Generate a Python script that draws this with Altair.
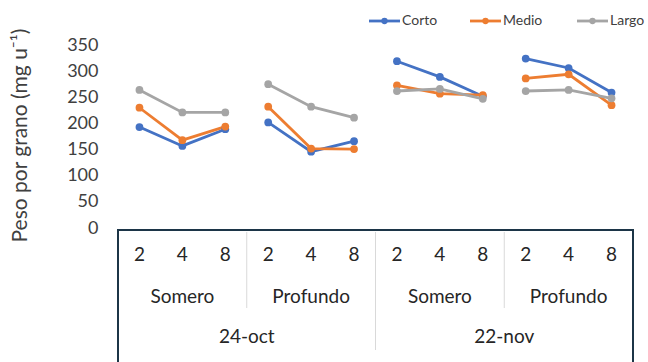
import altair as alt
import pandas as pd

# Category levels (innermost to outermost)
dias = ["2", "4", "8"]
profundidades = ["Somero", "Profundo"]
fechas = ["24-oct", "22-nov"]

# Peso por grano (mg/u) per series, ordered fecha > profundidad > día
series = ["Corto", "Medio", "Largo"]
corto = [193, 157, 189, 202, 146, 166, 319, 289, 252, 324, 306, 259]
medio = [230, 168, 194, 232, 152, 151, 273, 257, 254, 286, 294, 235]
largo = [264, 221, 221, 275, 232, 211, 262, 266, 247, 262, 264, 248]
colores = ["#4472C4", "#ED7D31", "#A5A5A5"]

FONT = "Lato"
W = 515
H = 183
N = len(fechas) * len(profundidades) * len(dias)

rows = []
cat_rows = []
pos = 0
for fi, f in enumerate(fechas):
    for pi, p in enumerate(profundidades):
        grupo = f"{f}|{p}"
        for d in dias:
            cat_rows.append({"pos": pos, "dia": d})
            for s, vals in zip(series, [corto, medio, largo]):
                rows.append({"pos": pos, "serie": s, "grupo": grupo, "peso": vals[pos]})
            pos += 1

df = pd.DataFrame(rows)
cats = pd.DataFrame(cat_rows)

nd = len(dias)
prof_df = pd.DataFrame([
    {"pos": (fi * len(profundidades) + pi) * nd + (nd - 1) / 2, "label": p}
    for fi, f in enumerate(fechas) for pi, p in enumerate(profundidades)
])
span_f = len(profundidades) * nd
fecha_df = pd.DataFrame([
    {"pos": fi * span_f + (span_f - 1) / 2, "label": f} for fi, f in enumerate(fechas)
])
# separators between depth groups (short) and between dates (long)
sep_prof = pd.DataFrame({"pos": [g * nd - 0.5 for g in range(1, N // nd) if (g * nd) % span_f != 0]})
sep_fecha = pd.DataFrame({"pos": [fi * span_f - 0.5 for fi in range(1, len(fechas))]})
frame = pd.DataFrame({"x0": [-0.5], "x1": [N - 0.5]})

xs = alt.Scale(domain=[-0.5, N - 0.5], nice=False, zero=False)
ys = alt.Scale(domain=[0, 350], nice=False)
cs = alt.Scale(domain=series, range=colores)


def xpos(field):
    return alt.X(field, scale=xs, axis=None)


lines = alt.Chart(df).mark_line(point=alt.OverlayMarkDef(size=60, filled=True), strokeWidth=2.8).encode(
    x=xpos("pos:Q"),
    y=alt.Y(
        "peso:Q", scale=ys,
        axis=alt.Axis(
            values=list(range(0, 351, 50)), grid=False, domain=False, ticks=False,
            labelPadding=20, labelFont=FONT, labelFontSize=18, labelColor="#404040",
            title="Peso por grano (mg u⁻¹)", titleFont=FONT, titleFontSize=21,
            titleFontWeight="normal", titleColor="#404040",
            titleX=-98, titleY=90, titleAngle=270, titleAlign="center", titleBaseline="middle",
        ),
    ),
    color=alt.Color("serie:N", scale=cs, legend=None),
    detail="grupo:N",
)

# legend row above the plot: line-with-marker swatch followed by the label
LEG_X = [251, 352, 459]
LEG_Y = -24
SW = 31
legend_layers = []
for s, c, x0 in zip(series, colores, LEG_X):
    one = alt.Chart(pd.DataFrame({"serie": [s]}))
    legend_layers += [
        one.mark_rule(color=c, strokeWidth=2.8).encode(
            x=alt.value(x0), x2=alt.value(x0 + SW), y=alt.value(LEG_Y)
        ),
        one.mark_point(filled=True, size=40, color=c, opacity=1).encode(
            x=alt.value(x0 + SW / 2), y=alt.value(LEG_Y)
        ),
        one.mark_text(font=FONT, fontSize=14, color="#404040", align="left", baseline="middle").encode(
            x=alt.value(x0 + SW + 2), y=alt.value(LEG_Y), text="serie:N"
        ),
    ]

box = alt.Chart(frame).mark_rect(fillOpacity=0, stroke="#1c3547", strokeWidth=2).encode(
    x=xpos("x0:Q"), x2="x1:Q", y=alt.value(H + 2), y2=alt.value(H + 240)
)

rule_prof = alt.Chart(sep_prof).mark_rule(color="#d9d9d9", strokeWidth=1).encode(
    x=xpos("pos:Q"), y=alt.value(H + 4), y2=alt.value(H + 80)
)
rule_fecha = alt.Chart(sep_fecha).mark_rule(color="#d9d9d9", strokeWidth=1).encode(
    x=xpos("pos:Q"), y=alt.value(H + 4), y2=alt.value(H + 122)
)

txt = dict(font=FONT, fontSize=19, color="#262626", baseline="middle", align="center")
t_dias = alt.Chart(cats).mark_text(**txt).encode(x=xpos("pos:Q"), y=alt.value(H + 27), text="dia:N")
t_prof = alt.Chart(prof_df).mark_text(**txt).encode(x=xpos("pos:Q"), y=alt.value(H + 69), text="label:N")
t_fecha = alt.Chart(fecha_df).mark_text(**txt).encode(x=xpos("pos:Q"), y=alt.value(H + 109), text="label:N")

chart = alt.layer(box, rule_prof, rule_fecha, t_dias, t_prof, t_fecha, lines, *legend_layers).properties(
    width=W, height=H,
    background="white",
    autosize=alt.AutoSizeParams(type="none"),
    padding={"left": 118, "top": 45, "right": 15, "bottom": 134},
).configure_view(strokeWidth=0)

chart.save("out.html", embed_options={"renderer": "svg", "actions": False})
